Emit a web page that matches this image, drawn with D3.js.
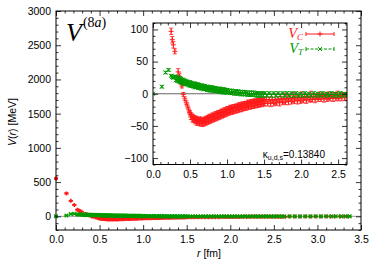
<!DOCTYPE html>
<html>
<head>
<meta charset="utf-8">
<script src="https://cdn.jsdelivr.net/npm/d3@7"></script>
<style>
  body { margin: 0; background: #fff; }
  svg { display: block; }
  text { font-family: "Liberation Sans", Arial, sans-serif; }
  .serif { font-family: "Liberation Serif", "Times New Roman", serif; }
</style>
</head>
<body>
<svg id="chart" width="374" height="262"></svg>
<script>
// V_C : [r (fm), value (MeV), error]
var vcData = [
  [0.00,552,14],[0.12,335,9],[0.17,226,7],[0.21,167,6],[0.245,97,5],[0.26,84,5],[0.275,76,5],
  [0.295,66,4],[0.34,34,5],[0.36,27,5],[0.375,18,3],[0.39,12,3],[0.41,-1,3],[0.43,-8,3],
  [0.45,-14,3],[0.465,-19,3],[0.48,-24,3],[0.495,-29,3],
  [0.50,-30,3],[0.51,-36,4],[0.52,-33,3],[0.53,-40,4],[0.54,-35,3],[0.55,-41,4],[0.56,-37,3],
  [0.57,-43,4],[0.58,-38,3],[0.59,-45,4],[0.60,-39,3],[0.61,-45,4],[0.62,-40,3],[0.63,-46,4],
  [0.64,-39,3],[0.65,-46,4],[0.66,-41,3],[0.67,-47,4],[0.68,-40,3],[0.69,-46,4],[0.70,-39,3],
  [0.71,-45,4],[0.72,-38,3],[0.73,-44,4],[0.74,-37,3],[0.75,-43,4],[0.76,-35,3],[0.77,-42,4],
  [0.78,-35,3],[0.79,-41,4],[0.80,-33,3],[0.81,-40,4],[0.82,-33,3],[0.83,-39,4],[0.84,-31,3],
  [0.85,-38,4],[0.86,-31,3],[0.87,-37,4],[0.88,-29,3],[0.89,-36,4],[0.90,-29,3],[0.91,-35,4],
  [0.92,-27,3],[0.93,-34,4],[0.94,-27,3],[0.95,-33,4],[0.96,-25,3],[0.97,-32,4],[0.98,-25,3],
  [0.99,-31,4],[1.00,-23,3],[1.01,-30,4],[1.02,-23,3],[1.03,-29,4],[1.04,-21,3],[1.05,-28,4],
  [1.06,-22,3],[1.07,-28,4],[1.08,-20,3],[1.09,-27,4],[1.10,-20,3],[1.11,-26,4],[1.12,-19,3],
  [1.13,-26,4],[1.14,-19,3],[1.15,-25,4],[1.16,-17,3],[1.17,-24,4],[1.18,-18,3],[1.19,-24,4],
  [1.20,-16,3],[1.21,-23,4],[1.22,-16,3],[1.23,-22,4],[1.24,-15,3],[1.25,-22,4],[1.26,-15,3],
  [1.27,-21,4],[1.28,-13,3],[1.29,-20,4],[1.30,-14,3],[1.31,-20,4],[1.32,-12,3],[1.33,-19,4],
  [1.34,-13,3],[1.35,-19,4],[1.36,-11,3],[1.37,-18,4],[1.38,-12,3],[1.39,-18,4],[1.40,-10,3],
  [1.41,-17,4],[1.42,-11,3],[1.43,-17,4],[1.44,-9,3],[1.45,-16,4],[1.46,-10,3],[1.47,-16,4],
  [1.48,-8,3],[1.49,-15,4],[1.50,-9,3],[1.51,-15,4],
  [1.53,-9,4],[1.55,-15,4],[1.57,-9,4],[1.59,-15,5],[1.61,-10,4],[1.63,-15,4],[1.65,-9,8],
  [1.67,-14,4],[1.69,-8,4],[1.71,-14,5],[1.73,-8,4],[1.75,-13,4],[1.77,-7,8],[1.79,-13,4],
  [1.81,-7,4],[1.83,-12,5],[1.85,-7,4],[1.87,-12,4],[1.89,-6,8],[1.91,-11,4],[1.93,-6,4],
  [1.95,-11,5],[1.97,-6,4],[1.99,-11,4],[2.01,-5,8],[2.03,-10,4],[2.05,-5,4],[2.07,-10,5],
  [2.09,-5,4],[2.11,-9,4],[2.13,-4,8],[2.15,-9,4],[2.17,-4,4],[2.19,-9,5],[2.21,-4,4],
  [2.23,-8,4],[2.25,-3,6],[2.27,-8,4],[2.29,-3,4],[2.31,-8,5],[2.33,-3,4],[2.35,-8,4],
  [2.37,-3,6],[2.39,-7,4],[2.41,-2,4],[2.43,-7,5],[2.45,-2,4],[2.47,-7,4],[2.49,-2,6],
  [2.51,-7,4],[2.53,-2,4],[2.55,-6,5],[2.57,-2,4],[2.59,-6,4],[2.61,-2,4],[2.63,-6,4],
  [2.68,-3,4],[2.74,-4,4],[2.80,-3,4],[2.86,-3,4],[2.92,-2,4],[2.98,-3,4],[3.04,-2,4],
  [3.10,-2,4],[3.15,-1,4],[3.20,-2,4],[3.26,-1,4],[3.31,-1,4],[3.35,-1,4]
];
// V_T : [r (fm), value (MeV), error]
var vtData = [
  [0.00,0,1],[0.12,11,2],[0.17,33,2],[0.21,37,2],[0.245,28,2],[0.26,26,2],[0.275,25,2],
  [0.30,27,2],[0.31,21,2],[0.32,26,2],[0.33,20,2],[0.34,25,2],[0.35,19,2],[0.36,24,2],
  [0.37,18,2],[0.38,23,2],[0.39,17,2],[0.40,22,2],[0.41,16,2],[0.42,21,2],[0.43,15,2],
  [0.44,20,2],[0.45,15,2],[0.46,19,2],[0.47,14,2],[0.48,18,2],[0.49,13,2],[0.50,18,2],
  [0.51,12,2],[0.52,17,2],[0.53,12,2],[0.54,16,2],[0.55,11,2],[0.56,16,2],[0.57,10,2],
  [0.58,15,2],[0.59,10,2],[0.60,15,2],[0.61,9,2],[0.62,14,2],[0.63,9,2],[0.64,13,2],
  [0.65,8,2],[0.66,13,2],[0.67,8,2],[0.68,12,2],[0.69,7,2],[0.70,12,2],[0.71,7,2],
  [0.72,11,2],[0.73,6,2],[0.74,11,2],[0.75,6,2],[0.76,10,2],[0.77,5,2],[0.78,10,2],
  [0.79,5,2],[0.80,10,2],[0.81,5,2],[0.82,9,2],[0.83,4,2],[0.84,9,2],[0.85,4,2],
  [0.86,8,2],[0.87,4,2],[0.88,8,2],[0.89,3,2],[0.90,8,2],[0.91,3,2],[0.92,7,2],
  [0.93,3,2],[0.94,7,2],[0.95,2,2],[0.96,7,2],[0.97,2,2],[0.98,6,2],[0.99,2,2],
  [1.00,6,2],[1.01,2,2],[1.03,5,2],[1.04,1,2],[1.06,5,2],[1.07,1,2],[1.09,4,2],
  [1.10,0,2],[1.12,4,2],[1.13,0,2],[1.15,4,2],[1.16,0,2],[1.18,3,2],[1.19,-1,2],
  [1.21,3,2],[1.22,-1,2],[1.24,3,2],[1.25,-1,2],[1.27,2,2],[1.28,-2,2],[1.30,2,2],
  [1.31,-2,2],[1.33,2,2],[1.34,-2,2],[1.36,2,2],[1.37,-2,2],[1.39,1,2],[1.40,-3,2],
  [1.42,1,2],[1.43,-3,2],[1.45,1,2],[1.46,-3,2],[1.48,1,2],[1.49,-3,2],
  [1.51,1,2],[1.54,-3,2],[1.57,1,2],[1.60,-3,2],[1.63,1,2],[1.66,-3,2],[1.69,1,2],
  [1.72,-3,2],[1.75,1,2],[1.78,-3,2],[1.81,1,2],[1.84,-3,2],[1.87,1,2],[1.90,-3,2],
  [1.93,1,2],[1.96,-3,2],[1.99,0,2],[2.02,-3,2],[2.05,1,2],[2.08,-3,2],[2.11,0,2],
  [2.14,-3,2],[2.17,1,2],[2.20,-3,2],[2.23,0,2],[2.26,-3,2],[2.29,1,2],[2.32,-3,2],
  [2.35,0,2],[2.38,-3,2],[2.41,1,2],[2.44,-3,2],[2.47,0,2],[2.50,-3,2],[2.53,1,2],
  [2.56,-3,2],[2.59,0,2],[2.62,-2,2],
  [2.68,0,2],[2.74,-1,2],[2.80,-1,2],[2.86,0,2],[2.92,-1,2],[2.98,0,2],[3.04,-1,2],
  [3.10,0,2],[3.16,-1,2],[3.21,0,2],[3.27,-1,2],[3.32,0,2],[3.37,-1,2]
];

var mainXTicks = [0, 0.5, 1.0, 1.5, 2.0, 2.5, 3.0, 3.5];
var mainYTicks = [0, 500, 1000, 1500, 2000, 2500, 3000];
var insetXTicks = [0, 0.5, 1.0, 1.5, 2.0, 2.5];
var insetYTicks = [-100, -50, 0, 50, 100];

var RED = "#ff1a1a", GREEN = "#009a00";

var svg = d3.select("#chart");
svg.append("rect").attr("width", 374).attr("height", 262).attr("fill", "#fff");

// draws frame + inward ticks on all four sides
function frame(g, x, y, xt, yt, xMinor, yMinor, xfmt, yfmt) {
  var x0 = x.range()[0], x1 = x.range()[1], y0 = y.range()[0], y1 = y.range()[1];
  var major = 5, minor = 2.5;
  var ax = g.append("g");
  ax.append("g").attr("transform", "translate(0," + y0 + ")")
    .call(d3.axisBottom(x).tickValues(xt).tickSize(-major).tickPadding(6).tickFormat(xfmt));
  ax.append("g").attr("transform", "translate(0," + y1 + ")")
    .call(d3.axisTop(x).tickValues(xt).tickSize(-major).tickFormat(""));
  ax.append("g").attr("transform", "translate(" + x0 + ",0)")
    .call(d3.axisLeft(y).tickValues(yt).tickSize(-major).tickPadding(5).tickFormat(yfmt));
  ax.append("g").attr("transform", "translate(" + x1 + ",0)")
    .call(d3.axisRight(y).tickValues(yt).tickSize(-major).tickFormat(""));
  ax.append("g").attr("transform", "translate(0," + y0 + ")")
    .call(d3.axisBottom(x).tickValues(xMinor).tickSize(-minor).tickFormat(""));
  ax.append("g").attr("transform", "translate(0," + y1 + ")")
    .call(d3.axisTop(x).tickValues(xMinor).tickSize(-minor).tickFormat(""));
  ax.append("g").attr("transform", "translate(" + x0 + ",0)")
    .call(d3.axisLeft(y).tickValues(yMinor).tickSize(-minor).tickFormat(""));
  ax.append("g").attr("transform", "translate(" + x1 + ",0)")
    .call(d3.axisRight(y).tickValues(yMinor).tickSize(-minor).tickFormat(""));
  ax.selectAll(".domain").remove();
  ax.selectAll(".tick line").attr("stroke", "#000").attr("stroke-width", 0.8);
  ax.selectAll("text").attr("font-size", "10.5px").attr("fill", "#000")
    .attr("font-family", "Liberation Sans, Arial, sans-serif");
  g.append("rect").attr("x", x0).attr("y", y1).attr("width", x1 - x0).attr("height", y0 - y1)
    .attr("fill", "none").attr("stroke", "#000").attr("stroke-width", 1);
}

function series(g, data, x, y, color, kind, arm, sw) {
  var pts = g.append("g").selectAll("g").data(data).join("g")
    .attr("transform", function (d) { return "translate(" + x(d[0]) + "," + y(d[1]) + ")"; })
    .attr("stroke", color).attr("stroke-width", sw).attr("fill", "none");
  pts.append("path").attr("d", function (d) {
    var a = y(d[1] + d[2]) - y(d[1]), b = y(d[1] - d[2]) - y(d[1]), c = 2;
    return "M0," + a + "V" + b + "M" + (-c) + "," + a + "h" + (2 * c) + "M" + (-c) + "," + b + "h" + (2 * c);
  }).attr("stroke-width", 0.8);
  pts.append("path").attr("d", kind === "plus"
    ? "M" + (-arm) + ",0H" + arm + "M0," + (-arm) + "V" + arm
    : "M" + (-arm) + "," + (-arm) + "L" + arm + "," + arm + "M" + (-arm) + "," + arm + "L" + arm + "," + (-arm));
}

// ---------- main plot ----------
var x = d3.scaleLinear().domain([0, 3.5]).range([56, 361]);
var y = d3.scaleLinear().domain([-200, 3000]).range([230, 11]);
var main = svg.append("g");

main.append("line").attr("x1", x(0)).attr("x2", x(3.5)).attr("y1", y(0)).attr("y2", y(0))
  .attr("stroke", "#999").attr("stroke-width", 1);
series(main, vcData, x, y, RED, "plus", 2, 1.6);
series(main, vtData, x, y, GREEN, "cross", 1.8, 1.3);

frame(main, x, y, mainXTicks, mainYTicks,
  d3.range(0, 36).map(function (i) { return i / 10; }).filter(function (v) { return Math.round(v * 10) % 5 !== 0; }),
  d3.range(-2, 30).map(function (i) { return i * 100; }).filter(function (v) { return v % 500 !== 0; }),
  d3.format(".1f"), d3.format("d"));

// axis titles
var xl = svg.append("text").attr("x", 209).attr("y", 257).attr("text-anchor", "middle").attr("font-size", "10.5px");
xl.append("tspan").attr("font-style", "italic").text("r");
xl.append("tspan").text(" [fm]");

var yl = svg.append("text").attr("transform", "translate(16,122) rotate(-90)")
  .attr("text-anchor", "middle").attr("font-size", "10.5px");
yl.append("tspan").attr("font-style", "italic").text("V");
yl.append("tspan").text("(");
yl.append("tspan").attr("font-style", "italic").text("r");
yl.append("tspan").text(") [MeV]");

// big label
var t = svg.append("text").attr("class", "serif").attr("x", 66).attr("y", 41);
t.append("tspan").attr("font-size", "26px").attr("font-style", "italic").text("V");
t.append("tspan").attr("font-size", "14px").attr("dy", -14).attr("dx", 1).text("(8");
t.append("tspan").attr("font-size", "14px").attr("font-style", "italic").text("a");
t.append("tspan").attr("font-size", "14px").text(")");

// ---------- inset ----------
var ix = d3.scaleLinear().domain([0, 2.62]).range([153, 347]);
var iy = d3.scaleLinear().domain([-110, 110]).range([164.5, 23]);
var inset = svg.append("g");
inset.append("rect").attr("x", 153).attr("y", 23).attr("width", 194).attr("height", 141.5).attr("fill", "#fff");
svg.append("clipPath").attr("id", "clipInset").append("rect")
  .attr("x", 153).attr("y", 23).attr("width", 194).attr("height", 141.5);
var ip = inset.append("g").attr("clip-path", "url(#clipInset)");
ip.append("line").attr("x1", ix(0)).attr("x2", ix(2.62)).attr("y1", iy(0)).attr("y2", iy(0))
  .attr("stroke", "#666").attr("stroke-width", 1);
series(ip, vcData, ix, iy, RED, "plus", 2.5, 1);
series(ip, vtData, ix, iy, GREEN, "cross", 2, 1);

frame(inset, ix, iy, insetXTicks, insetYTicks,
  d3.range(0, 27).map(function (i) { return i / 10; }).filter(function (v) { return Math.round(v * 10) % 5 !== 0; }),
  d3.range(-11, 12).map(function (i) { return i * 10; }).filter(function (v) { return v % 50 !== 0; }),
  d3.format(".1f"), d3.format("d"));

// legend
var legend = [
  { name: "C", color: RED, kind: "plus", dash: null, y: 34 },
  { name: "T", color: GREEN, kind: "cross", dash: "3,1.5", y: 49 }
];
legend.forEach(function (l) {
  var lt = svg.append("text").attr("class", "serif").attr("x", 303).attr("y", l.y + 4)
    .attr("text-anchor", "end").attr("fill", l.color).attr("font-style", "italic");
  lt.append("tspan").attr("font-size", "14.5px").text("V");
  lt.append("tspan").attr("font-size", "9px").attr("dy", 1.5).text(l.name);
  var lg = svg.append("g").attr("stroke", l.color).attr("stroke-width", 1).attr("fill", "none");
  lg.append("line").attr("x1", 306).attr("x2", 334).attr("y1", l.y).attr("y2", l.y)
    .attr("stroke-dasharray", l.dash);
  lg.append("path").attr("d", "M306," + (l.y - 2) + "V" + (l.y + 2) + "M334," + (l.y - 2) + "V" + (l.y + 2));
  var a = l.kind === "plus" ? 2.5 : 2;
  lg.append("path").attr("transform", "translate(320," + l.y + ")").attr("d", l.kind === "plus"
    ? "M" + (-a) + ",0H" + a + "M0," + (-a) + "V" + a
    : "M" + (-a) + "," + (-a) + "L" + a + "," + a + "M" + (-a) + "," + a + "L" + a + "," + (-a));
});

// kappa label
var k = svg.append("text").attr("x", 325).attr("y", 158).attr("text-anchor", "end")
  .attr("font-size", "10px").attr("fill", "#000");
k.append("tspan").text("κ");
k.append("tspan").attr("font-size", "7px").attr("dy", 2).text("u,d,s");
k.append("tspan").attr("dy", -2).text("=0.13840");
</script>
</body>
</html>
